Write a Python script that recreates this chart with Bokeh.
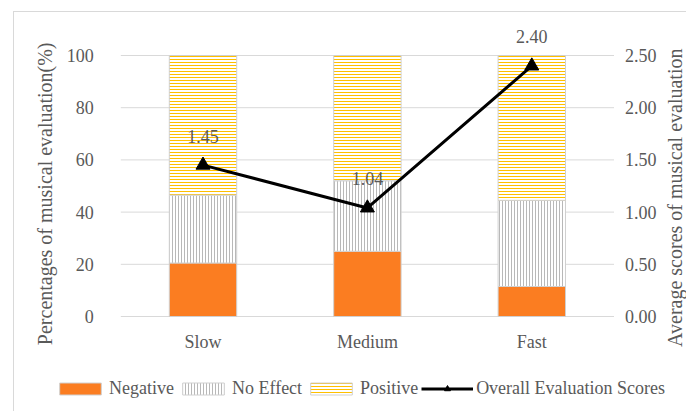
import math
from bokeh.plotting import figure
from bokeh.models import (ColumnDataSource, Range1d, LabelSet, Label, Legend, LegendItem)
from bokeh.core.properties import value
from bokeh.embed import file_html
from bokeh.resources import INLINE

# Tempo categories and response shares (%)
speeds = ["Slow", "Medium", "Fast"]
negative = [20.5, 25.0, 11.5]
no_effect = [26.0, 27.0, 33.0]
positive = [53.5, 48.0, 55.5]

# Overall evaluation scores (right axis)
scores = [1.45, 1.04, 2.40]
score_text = ["1.45", "1.04", "2.40"]

# Axis ticks and their labels
left_ticks = [0, 20, 40, 60, 80, 100]
left_tick_labels = ["0", "20", "40", "60", "80", "100"]
right_ticks = [0.0, 0.5, 1.0, 1.5, 2.0, 2.5]
right_tick_labels = ["0.00", "0.50", "1.00", "1.50", "2.00", "2.50"]

FONT = "Liberation Serif"
TEXT = "#595959"
GRID = "#d9d9d9"

# ---- canvas geometry (pixels) ----
W, H = 673, 400
PX_PER_CAT = 164.4     # horizontal distance between category centres
PX_PER_PCT = 2.61      # vertical pixels per percentage point
CAT0_X = 188.5         # canvas x of the first category centre
ZERO_Y = 304           # canvas y (from top) of the 0 % baseline
SCORE_RATIO = 40.0     # 100 % <-> 2.50 score

pos = list(range(len(speeds)))
x_lo, x_hi = pos[0] - 0.5, pos[-1] + 0.5

x_range = Range1d(pos[0] - CAT0_X / PX_PER_CAT, pos[0] + (W - CAT0_X) / PX_PER_CAT)
y_range = Range1d(-(H - ZERO_Y) / PX_PER_PCT, ZERO_Y / PX_PER_PCT)
score_range = Range1d(y_range.start / SCORE_RATIO, y_range.end / SCORE_RATIO)

src = ColumnDataSource(dict(pos=pos, speed=speeds, negative=negative, no_effect=no_effect,
                            positive=positive, score=scores, label=score_text))

p = figure(x_range=x_range, y_range=y_range, x_axis_type=None, y_axis_type=None,
           width=W, height=H, min_border=0, output_backend="svg", toolbar_location=None,
           margin=(11, 0, 0, 13))
p.styles = {"border-left": "1px solid #d9d9d9", "border-top": "1px solid #d9d9d9"}
p.outline_line_color = None
p.background_fill_color = "white"
p.border_fill_color = "white"
p.extra_y_ranges = {"score": score_range}

# horizontal gridlines (the 0 line doubles as the category axis line)
p.segment(x0=x_lo, x1=x_hi, y0=left_ticks, y1=left_ticks, line_color=GRID, line_width=1)

bars = p.vbar_stack(["negative", "no_effect", "positive"], x="pos", width=0.41, source=src,
                    fill_color=["#fb7d21", "white", "white"],
                    line_color=["#d0d0d0", "#d0d0d0", "#d0d0d0"], line_width=1,
                    hatch_pattern=[" ", "|", "-"],
                    hatch_color=["#fb7d21", "#b8b8b8", "#ffc000"],
                    hatch_scale=[3, 3, 3], hatch_weight=[1, 1, 1])

ln = p.line(x="pos", y="score", source=src, y_range_name="score",
            line_color="black", line_width=3)
mk = p.scatter(x="pos", y="score", source=src, y_range_name="score",
               marker="triangle", size=14, fill_color="black", line_color="black")

text_style = dict(text_font=value(FONT), text_font_size="18px", text_color=TEXT)

# score values above the markers
p.add_layout(LabelSet(x="pos", y="score", text="label", source=src, y_range_name="score",
                      y_offset=29, text_align="center", text_baseline="middle", **text_style))

# category labels under the baseline
p.add_layout(LabelSet(x="pos", y=0, text="speed", source=src, y_offset=-25,
                      text_align="center", text_baseline="middle", **text_style))

# left tick labels
lsrc = ColumnDataSource(dict(y=left_ticks, text=left_tick_labels))
p.add_layout(LabelSet(x=x_lo, y="y", text="text", source=lsrc, x_offset=-27,
                      text_align="right", text_baseline="middle", **text_style))

# right tick labels
rsrc = ColumnDataSource(dict(y=right_ticks, text=right_tick_labels))
p.add_layout(LabelSet(x=x_hi, y="y", text="text", source=rsrc, y_range_name="score",
                      x_offset=11, text_align="left", text_baseline="middle", **text_style))

# axis titles, both reading bottom-to-top
title_style = dict(text_font=FONT, text_font_size="20px", text_color=TEXT,
                   text_align="center", text_baseline="middle", angle=math.pi / 2)
p.add_layout(Label(x=30, x_units="screen", y=47, text="Percentages of musical evaluation(%)",
                   **title_style))
p.add_layout(Label(x=660, x_units="screen", y=45.5, text="Average scores of musical evaluation",
                   **title_style))

legend = Legend(items=[
    LegendItem(label="Negative", renderers=[bars[0]]),
    LegendItem(label="No Effect", renderers=[bars[1]]),
    LegendItem(label="Positive", renderers=[bars[2]]),
    LegendItem(label="Overall Evaluation Scores", renderers=[ln, mk]),
], orientation="horizontal", location=(40, 13), padding=0, margin=0, spacing=3,
    label_standoff=3, glyph_width=52, glyph_height=15,
    label_text_font=FONT, label_text_font_size="18px", label_text_color=TEXT,
    background_fill_alpha=0, border_line_color=None)
p.add_layout(legend)

open("out.html", "w").write(file_html(p, INLINE))
